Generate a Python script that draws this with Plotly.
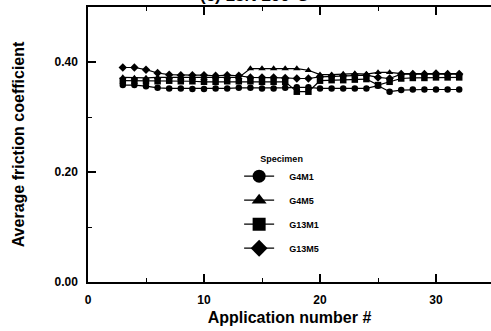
import plotly.graph_objects as go

app_no = list(range(3, 33))

g4m1 = [0.358, 0.358, 0.356, 0.353, 0.352, 0.352, 0.351, 0.351, 0.352, 0.352,
        0.353, 0.353, 0.352, 0.352, 0.353, 0.354, 0.354, 0.352, 0.352, 0.352,
        0.352, 0.352, 0.357, 0.346, 0.349, 0.350, 0.350, 0.350, 0.350, 0.350]
g4m5 = [0.372, 0.371, 0.371, 0.372, 0.372, 0.371, 0.371, 0.371, 0.372, 0.372,
        0.372, 0.388, 0.388, 0.388, 0.388, 0.388, 0.385, 0.377, 0.377, 0.378,
        0.379, 0.378, 0.381, 0.381, 0.379, 0.379, 0.379, 0.379, 0.379, 0.379]
g13m1 = [0.366, 0.366, 0.365, 0.365, 0.366, 0.365, 0.365, 0.364, 0.364, 0.365,
         0.365, 0.365, 0.364, 0.364, 0.364, 0.346, 0.346, 0.366, 0.367, 0.367,
         0.368, 0.369, 0.358, 0.364, 0.370, 0.371, 0.371, 0.372, 0.372, 0.372]
g13m5 = [0.390, 0.390, 0.386, 0.380, 0.377, 0.376, 0.376, 0.376, 0.375, 0.376,
         0.375, 0.372, 0.372, 0.372, 0.371, 0.370, 0.370, 0.373, 0.374, 0.375,
         0.376, 0.376, 0.372, 0.370, 0.378, 0.378, 0.378, 0.379, 0.378, 0.378]

series = [("G4M1", g4m1, "circle"), ("G4M5", g4m5, "triangle-up"),
          ("G13M1", g13m1, "square"), ("G13M5", g13m5, "diamond")]

FONT = "Liberation Sans, Arial, sans-serif"
fig = go.Figure()
for name, vals, sym in series:
    fig.add_trace(go.Scatter(x=app_no, y=vals, mode="lines+markers", name=name,
                             showlegend=False,
                             line=dict(color="black", width=1.2),
                             marker=dict(symbol=sym, size=6.5, color="black")))
for name, vals, sym in series:
    fig.add_trace(go.Scatter(x=[None], y=[None], mode="lines+markers",
                             name="\u00a0\u00a0\u00a0\u00a0<b>" + name + "</b>", legendgroup=name,
                             line=dict(color="black", width=1.2),
                             marker=dict(symbol=sym, size=13, color="black")))

fig.update_layout(
    width=491, height=331,
    margin=dict(l=88, r=0, t=7, b=49),
    paper_bgcolor="white", plot_bgcolor="white",
    font=dict(family=FONT, color="black"),
    showlegend=True,
    legend=dict(x=0.375, y=0.48, xanchor="left", yanchor="top",
                bgcolor="rgba(0,0,0,0)",
                title=dict(text="<b>Specimen</b>", side="top center",
                           font=dict(size=9, family=FONT)),
                font=dict(size=9, family=FONT),
                itemsizing="trace", tracegroupgap=5),
    xaxis=dict(range=[0, 34.74], tickvals=[0, 10, 20, 30],
               ticktext=["<b>0</b>", "<b>10</b>", "<b>20</b>", "<b>30</b>"],
               ticks="inside", ticklen=8, tickwidth=1.5, tickcolor="black",
               ticklabelstandoff=6,
               minor=dict(dtick=5, tick0=0, ticks="inside", ticklen=4, tickwidth=1.2, tickcolor="black", showgrid=False),
               showline=True, linecolor="black", linewidth=1.5, mirror="ticks",
               showgrid=False, zeroline=False,
               tickfont=dict(size=12, family=FONT),
               title=dict(text="<b>Application number #</b>", font=dict(size=16, family=FONT), standoff=6)),
    yaxis=dict(range=[0, 0.5], tickvals=[0, 0.2, 0.4],
               ticktext=["<b>0.00</b>", "<b>0.20</b>", "<b>0.40</b>"],
               ticks="inside", ticklen=8, tickwidth=1.5, tickcolor="black",
               ticklabelstandoff=6,
               minor=dict(dtick=0.1, tick0=0, ticks="inside", ticklen=4, tickwidth=1.2, tickcolor="black", showgrid=False),
               showline=True, linecolor="black", linewidth=1.5, mirror=False,
               showgrid=False, zeroline=False,
               tickfont=dict(size=12, family=FONT),
               title=dict(text="<b>Average friction coefficient</b>", font=dict(size=16, family=FONT), standoff=26)),
    yaxis2=dict(range=[0, 0.5], overlaying="y", side="right", anchor="x",
                tickvals=[0, 0.2, 0.4], showticklabels=False,
                ticks="inside", ticklen=8, tickwidth=1.5, tickcolor="black",
                minor=dict(dtick=0.1, tick0=0, ticks="inside", ticklen=4, tickwidth=1.2, tickcolor="black", showgrid=False),
                showline=False, showgrid=False, zeroline=False),
    annotations=[dict(text="<b>(c) 15N 200°C</b>", xref="paper", yref="paper",
                      x=0.414, y=1.0, xanchor="center", yanchor="bottom",
                      showarrow=False, font=dict(size=17, family=FONT))],
)
fig.write_html("out.html")
